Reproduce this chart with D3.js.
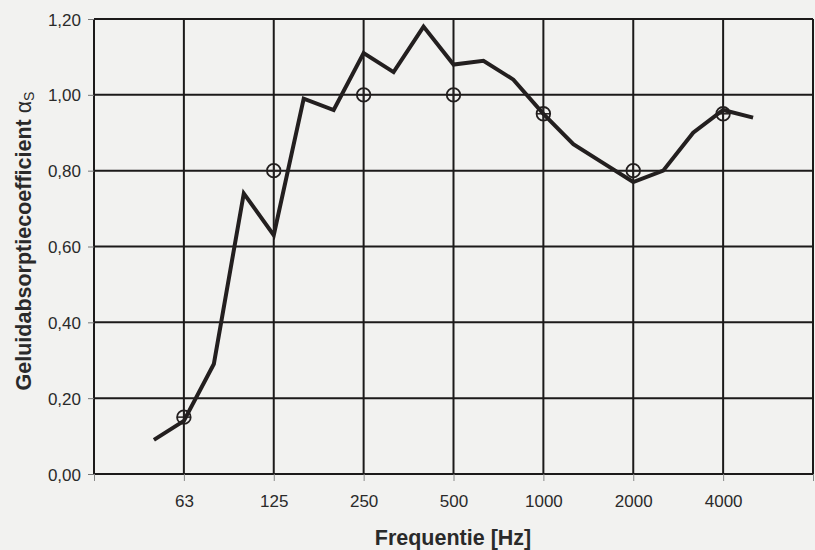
<!DOCTYPE html>
<html><head><meta charset="utf-8">
<script src="https://cdn.jsdelivr.net/npm/d3@7"></script>
<style>
html,body{margin:0;padding:0;background:#f2f2f0;}
svg{display:block;}
</style></head>
<body>
<svg id="c" width="815" height="550"></svg>
<script>
// third-octave band centres (x categories)
const bands = ["31.5","40","50","63","80","100","125","160","200","250","315","400","500","630","800","1000","1250","1600","2000","2500","3150","4000","5000","6300","8000"];
// octave labels shown on x axis
const tickLabels = ["63","125","250","500","1000","2000","4000"];
// measured curve (third-octave)
const curveFreq = ["50","63","80","100","125","160","200","250","315","400","500","630","800","1000","1250","1600","2000","2500","3150","4000","5000"];
const curveVal  = [0.09,0.14,0.29,0.74,0.63,0.99,0.96,1.11,1.06,1.18,1.08,1.09,1.04,0.95,0.87,0.82,0.77,0.80,0.90,0.96,0.94];
// octave band values (circles)
const octFreq = ["63","125","250","500","1000","2000","4000"];
const octVal  = [0.15,0.80,1.00,1.00,0.95,0.80,0.95];
const yTicks = [0,0.2,0.4,0.6,0.8,1.0,1.2];

const svg = d3.select("#c");
const L=94, R=813, T=19, B=474;
const x = d3.scalePoint().domain(bands).range([L,R]);
const y = d3.scaleLinear().domain([0,1.2]).range([B,T]);
const gridColor="#1c1a1a";
const FF="Liberation Sans, Arial, sans-serif";

// gridlines: octave verticals
const gridX = ["31.5","63","125","250","500","1000","2000","4000","8000"];
svg.append("g").selectAll("line").data(gridX).join("line")
  .attr("x1",d=>x(d)).attr("x2",d=>x(d)).attr("y1",T).attr("y2",B)
  .attr("stroke",gridColor).attr("stroke-width",2);
svg.append("g").selectAll("line").data(yTicks).join("line")
  .attr("x1",L).attr("x2",R).attr("y1",d=>y(d)).attr("y2",d=>y(d))
  .attr("stroke",gridColor).attr("stroke-width",2);

// y axis
const yAxis = d3.axisLeft(y).tickValues(yTicks).tickSize(6).tickPadding(7)
  .tickFormat(d=>d3.format(".2f")(d).replace(".",","));
const gy = svg.append("g").attr("transform",`translate(${L},0)`).call(yAxis);
gy.select(".domain").remove();
gy.selectAll(".tick line").attr("stroke","#777").attr("stroke-width",1);
gy.selectAll("text").attr("font-family",FF).attr("font-size",17).attr("fill","#2a2a2a").attr("dy","0.36em");

// x axis
const xAxis = d3.axisBottom(x).tickValues(gridX).tickSize(7).tickPadding(14)
  .tickFormat(d=>tickLabels.includes(d)?d:"");
const gx = svg.append("g").attr("transform",`translate(0,${B})`).call(xAxis);
gx.select(".domain").remove();
gx.selectAll(".tick line").attr("stroke","#888").attr("stroke-width",1);
gx.selectAll("text").attr("font-family",FF).attr("font-size",17).attr("fill","#2a2a2a");

// curve
const pts = curveFreq.map((f,i)=>[x(f),y(curveVal[i])]);
svg.append("path").attr("d",d3.line()(pts)).attr("fill","none")
  .attr("stroke","#231f1f").attr("stroke-width",4).attr("stroke-linejoin","miter");

// octave circles
const cg = svg.append("g");
octFreq.forEach((f,i)=>{
  const cx=x(f), cy=y(octVal[i]);
  cg.append("circle").attr("cx",cx).attr("cy",cy).attr("r",6.8).attr("fill","none").attr("stroke","#231f1f").attr("stroke-width",1.8);
  cg.append("line").attr("x1",cx-6.8).attr("x2",cx+6.8).attr("y1",cy).attr("y2",cy).attr("stroke","#231f1f").attr("stroke-width",1.5);
  cg.append("line").attr("x1",cx).attr("x2",cx).attr("y1",cy-6.8).attr("y2",cy+6.8).attr("stroke","#231f1f").attr("stroke-width",1.5);
});

// axis titles
svg.append("text").attr("x",453).attr("y",545).attr("text-anchor","middle")
  .attr("font-family",FF).attr("font-weight","bold").attr("font-size",21.5).attr("fill","#2a2a2a")
  .text("Frequentie [Hz]");
const yt = svg.append("text").attr("transform","translate(31,241) rotate(-90)").attr("text-anchor","middle")
  .attr("font-family",FF).attr("font-weight","bold").attr("font-size",21.5).attr("fill","#2a2a2a");
yt.append("tspan").text("Geluidabsorptiecoefficient ");
yt.append("tspan").attr("font-weight","normal").text("α");
yt.append("tspan").attr("font-weight","normal").attr("font-size",14).attr("dy",3).text("S");
</script>
</body></html>
